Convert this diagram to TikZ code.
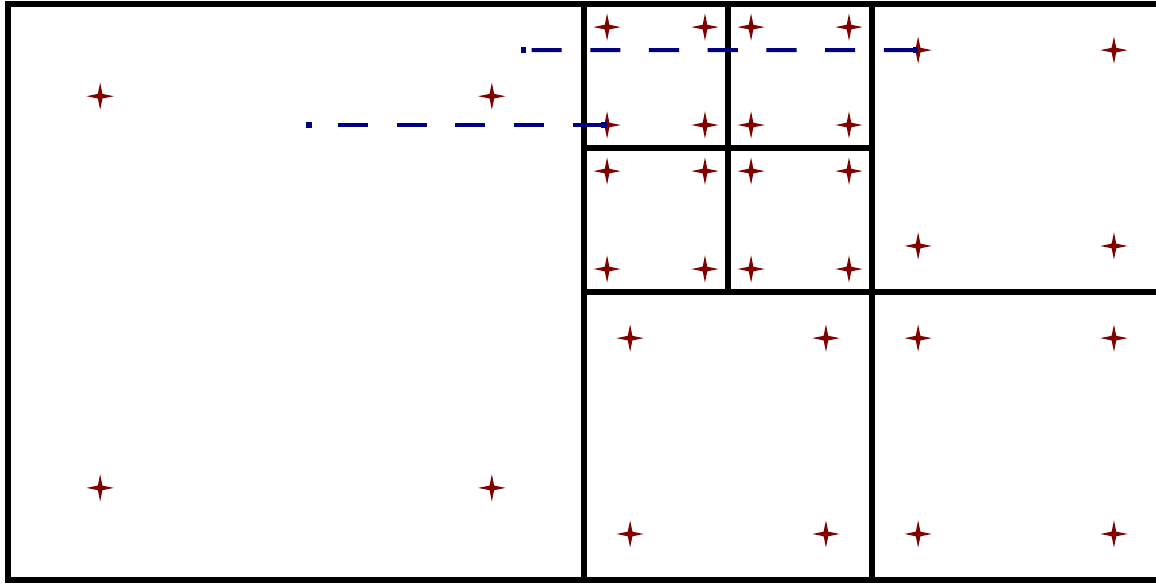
\documentclass[tikz,border=0pt]{standalone}
\usepackage{tikz}
\usetikzlibrary{shapes.geometric, arrows.meta}
\definecolor{gptred}{RGB}{128,0,0}
\definecolor{mapblue}{RGB}{0,0,128}

\begin{document}
\begin{tikzpicture}[x=1cm, y=1cm,
    cell/.style={line width=2.3pt},
    gpt/.style={star, star points=4, star point ratio=4.2, fill=gptred, inner sep=0pt, minimum size=0.38cm},
    mapline/.style={mapblue, line width=1.5pt, dash pattern=on 11.9pt off 11.3pt, {Square[length=2.2pt, width=2.2pt]}-{Square[length=2.2pt, width=2.2pt]}}]
    \useasboundingbox (-0.111, -0.056) rectangle (15.944, 8.056);
    \clip (-0.111, -0.056) rectangle (15.944, 8.056);

    % mesh cells
    \draw[cell] (0, 0) rectangle (8, 8);
    \draw[cell] (8, 0) rectangle (12, 4);
    \draw[cell] (12, 0) rectangle (16, 4);
    \draw[cell] (12, 4) rectangle (16, 8);
    \draw[cell] (8, 4) rectangle (10, 6);
    \draw[cell] (10, 4) rectangle (12, 6);
    \draw[cell] (8, 6) rectangle (10, 8);
    \draw[cell] (10, 6) rectangle (12, 8);

    % quadrature points
    \foreach \cx/\cy/\s [count=\k] in {0/0/8, 8/0/4, 12/0/4, 12/4/4, 8/4/2, 10/4/2, 8/6/2, 10/6/2} {
        \node[gpt] (g\k-ll) at ({\cx+0.16*\s}, {\cy+0.16*\s}) {};
        \node[gpt] (g\k-lr) at ({\cx+0.84*\s}, {\cy+0.16*\s}) {};
        \node[gpt] (g\k-ul) at ({\cx+0.16*\s}, {\cy+0.84*\s}) {};
        \node[gpt] (g\k-ur) at ({\cx+0.84*\s}, {\cy+0.84*\s}) {};
    }

    % mapped points
    \coordinate (p1) at (4.14, 6.32);
    \coordinate (p2) at (7.12, 7.36);
    \draw[mapline] (g7-ll.center) -- (p1);
    \draw[mapline] (g4-ul.center) -- (p2);
\end{tikzpicture}
\end{document}
